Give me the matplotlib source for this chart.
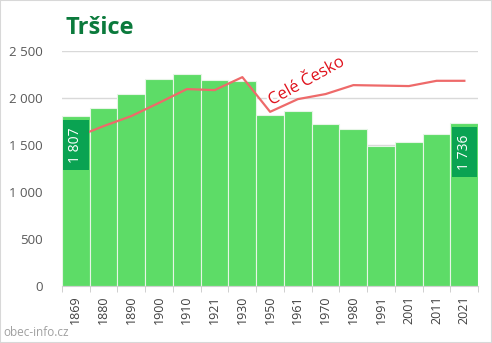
import numpy as np
import matplotlib
matplotlib.use("Agg")
import matplotlib.pyplot as plt
import matplotlib.patheffects as pe
from matplotlib.patches import Rectangle

plt.rcParams['font.family'] = ['Open Sans', 'DejaVu Sans']

years = ['1869', '1880', '1890', '1900', '1910', '1921', '1930', '1950',
         '1961', '1970', '1980', '1991', '2001', '2011', '2021']
obyvatele = [1807, 1894, 2043, 2202, 2255, 2191, 2181, 1819,
             1865, 1723, 1670, 1489, 1535, 1620, 1736]
cele_cesko = [1585, 1702, 1809, 1950, 2096, 2085, 2223, 1854,
              1989, 2043, 2138, 2133, 2128, 2184, 2184]
yticks = [0, 500, 1000, 1500, 2000, 2500]
ytick_labels = ['0', '500', '1 000', '1 500', '2 000', '2 500']

fig = plt.figure(figsize=(4.92, 3.43), dpi=100)
ax = fig.add_axes([0.126, 0.166, 0.846, 0.685])

x = np.arange(len(years))
ax.bar(x, obyvatele, width=1.0, color='#5ddc67', edgecolor='#e6f5e6',
       linewidth=0.8, zorder=2)
ax.plot(x, cele_cesko, color='#ee6a6a', linewidth=1.6, zorder=3)

# popisky prvni a posledni hodnoty
for i in (0, len(years) - 1):
    top = obyvatele[i] - 45
    ax.add_patch(Rectangle((i - 0.46, top - 530), 0.92, 530,
                           facecolor='#0aa352', edgecolor='none', zorder=4))
    ax.text(i, top - 265, f"{obyvatele[i]:,}".replace(',', ' '),
            rotation=90, ha='center', va='center', color='white',
            fontsize=10, zorder=5)

ax.text(8.3, 2175, 'Celé Česko', rotation=29, color='#e0141e', fontsize=12,
        ha='center', va='center', zorder=6,
        path_effects=[pe.withStroke(linewidth=3, foreground='white')])

ax.set_xlim(-0.5, len(years) - 0.5)
ax.set_ylim(0, 2500)
ax.set_yticks(yticks)
ax.set_yticklabels(ytick_labels)
ax.set_xticks(x)
ax.set_xticklabels(years, rotation=90)
ax.set_xticks(np.arange(len(years) + 1) - 0.5, minor=True)
ax.tick_params(axis='x', which='major', length=0, pad=7, labelsize=9,
               labelcolor='#404040')
ax.tick_params(axis='x', which='minor', length=4, color='#c8c8c8')
ax.tick_params(axis='y', length=0, pad=14, labelsize=9.5, labelcolor='#595959')
ax.grid(axis='y', color='#d9d9d9', linewidth=1, zorder=0)
for s in ['top', 'right', 'left']:
    ax.spines[s].set_visible(False)
ax.spines['bottom'].set_color('#d0d0d0')

fig.text(0.134, 0.918, 'Tršice', fontsize=17, fontweight='bold',
         color='#0b7a3c', ha='left', va='center')
fig.text(0.006, 0.03, 'obec-info.cz', fontsize=8.5, color='#a0a0a0',
         ha='left', va='center')
fig.patches.append(Rectangle((0, 0), 1, 1, transform=fig.transFigure,
                             fill=False, edgecolor='#d8d8d8', linewidth=1.5))

fig.savefig('out.png', dpi=100)
